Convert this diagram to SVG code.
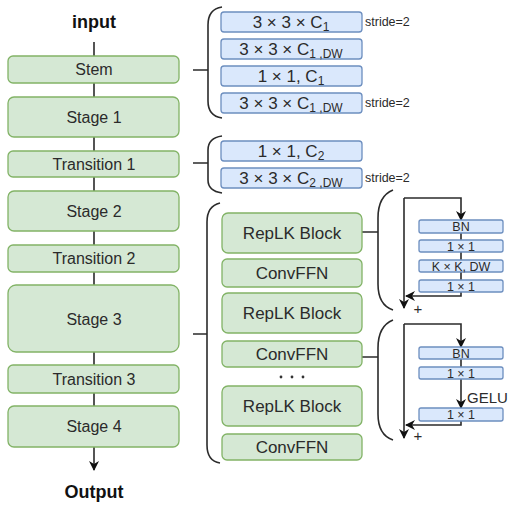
<svg xmlns="http://www.w3.org/2000/svg" width="514" height="507" viewBox="0 0 514 507">
<style>
.g{fill:#d5e8d4;stroke:#82b366;stroke-width:1.3}
.b{fill:#dae8fc;stroke:#6c8ebf;stroke-width:1.3}
.t{font-family:"Liberation Sans",Arial,sans-serif;fill:#2b2b2b;text-anchor:middle}
.lt{font-size:16px}
.rt{font-size:17px}
.st{font-size:12.5px}
.sm{font-size:12.5px}
.ln{fill:none;stroke:#2b2b2b;stroke-width:1.6}
.br{fill:none;stroke:#2b2b2b;stroke-width:1.6}
</style>
<defs>
<marker id="ah2" viewBox="0 0 10 10" refX="9" refY="5" markerWidth="10" markerHeight="10" orient="auto" markerUnits="userSpaceOnUse">
<path d="M0,0 L10,5 L0,10 L3,5 z" fill="#111"/>
</marker>
</defs>

<g id="connectors">
<path class="ln" d="M94,42 V56 M94,83 V97 M94,137 V151 M94,177 V191 M94,231 V245 M94,272 V285 M94,352 V365 M94,393 V406"/>
<path class="ln" d="M94,447 V470" marker-end="url(#ah2)"/>
<path class="ln" d="M193,70 H208 M193,163 H208 M193,334 H207 M362,232 H378 M362,357 H378"/>
<path class="br" d="M222,7 Q208,9 208,25 L208,101 Q208,116 222,118"/>
<path class="br" d="M222,136 Q208,138 208,150 L208,180 Q208,191 222,193"/>
<path class="br" d="M220,203 Q207,206 207,222 L207,445 Q207,461 220,463"/>
<path class="br" d="M393,190 Q378,196 378,218 L378,284 Q378,305 393,310"/>
<path class="br" d="M393,320 Q378,326 378,348 L378,414 Q378,435 393,440"/>
<path class="ln" d="M404,198 V308" marker-end="url(#ah2)"/>
<path class="ln" d="M404,198 H461 V220" marker-end="url(#ah2)"/>
<path class="ln" d="M461,233 V240 M461,252 V260 M461,272 V280"/>
<path class="ln" d="M461,292 V296 H406" marker-end="url(#ah2)"/>
<path class="ln" d="M404,324 V438" marker-end="url(#ah2)"/>
<path class="ln" d="M404,324 H461 V347" marker-end="url(#ah2)"/>
<path class="ln" d="M461,359 V367"/>
<path class="ln" d="M461,379 V408" marker-end="url(#ah2)"/>
<path class="ln" d="M461,421 V425 H406" marker-end="url(#ah2)"/>
</g>

<text class="t" x="94" y="28" style="font-size:18px;font-weight:bold;fill:#111">input</text>
<text class="t" x="94" y="498" style="font-size:18px;font-weight:bold;fill:#111">Output</text>

<g id="stem"><rect class="g" x="8" y="56" width="171" height="27" rx="5"/><text class="t lt" x="94" y="75">Stem</text></g>
<g id="stage1"><rect class="g" x="8" y="97" width="171" height="40" rx="6"/><text class="t lt" x="94" y="123">Stage 1</text></g>
<g id="transition1"><rect class="g" x="8" y="151" width="171" height="26" rx="5"/><text class="t lt" x="94" y="170">Transition 1</text></g>
<g id="stage2"><rect class="g" x="8" y="191" width="171" height="40" rx="6"/><text class="t lt" x="94" y="217">Stage 2</text></g>
<g id="transition2"><rect class="g" x="8" y="245" width="171" height="27" rx="5"/><text class="t lt" x="94" y="264">Transition 2</text></g>
<g id="stage3"><rect class="g" x="8" y="285" width="171" height="67" rx="8"/><text class="t lt" x="94" y="325">Stage 3</text></g>
<g id="transition3"><rect class="g" x="8" y="365" width="171" height="28" rx="5"/><text class="t lt" x="94" y="385">Transition 3</text></g>
<g id="stage4"><rect class="g" x="8" y="406" width="171" height="41" rx="6"/><text class="t lt" x="94" y="432">Stage 4</text></g>

<g id="stem-conv1"><rect class="b" x="221" y="12" width="141" height="20" rx="3"/><text class="t rt" x="291" y="28">3 × 3 × C<tspan font-size="12" dy="3">1</tspan></text><text class="t st" x="365" y="26" style="text-anchor:start">stride=2</text></g>
<g id="stem-conv2"><rect class="b" x="221" y="39" width="141" height="20" rx="3"/><text class="t rt" x="291" y="55">3 × 3 × C<tspan font-size="12" dy="3">1 ,DW</tspan></text></g>
<g id="stem-conv3"><rect class="b" x="221" y="66" width="141" height="20" rx="3"/><text class="t rt" x="291" y="82">1 × 1, C<tspan font-size="12" dy="3">1</tspan></text></g>
<g id="stem-conv4"><rect class="b" x="221" y="93" width="141" height="20" rx="3"/><text class="t rt" x="291" y="109">3 × 3 × C<tspan font-size="12" dy="3">1 ,DW</tspan></text><text class="t st" x="365" y="107" style="text-anchor:start">stride=2</text></g>

<g id="trans-conv1"><rect class="b" x="221" y="141" width="141" height="20" rx="3"/><text class="t rt" x="291" y="157">1 × 1, C<tspan font-size="12" dy="3">2</tspan></text></g>
<g id="trans-conv2"><rect class="b" x="221" y="168" width="141" height="20" rx="3"/><text class="t rt" x="291" y="184">3 × 3 × C<tspan font-size="12" dy="3">2 ,DW</tspan></text><text class="t st" x="365" y="182" style="text-anchor:start">stride=2</text></g>

<g id="replk1"><rect class="g" x="222" y="213" width="140" height="40" rx="6"/><text class="t rt" x="292" y="239">RepLK Block</text></g>
<g id="convffn1"><rect class="g" x="222" y="259" width="140" height="28" rx="5"/><text class="t rt" x="292" y="279">ConvFFN</text></g>
<g id="replk2"><rect class="g" x="222" y="293" width="140" height="40" rx="6"/><text class="t rt" x="292" y="319">RepLK Block</text></g>
<g id="convffn2"><rect class="g" x="222" y="341" width="140" height="26" rx="5"/><text class="t rt" x="292" y="360">ConvFFN</text></g>
<g id="dots" fill="#333"><circle cx="281" cy="377" r="1.4"/><circle cx="292" cy="377" r="1.4"/><circle cx="303" cy="377" r="1.4"/></g>
<g id="replk3"><rect class="g" x="222" y="386" width="140" height="40" rx="6"/><text class="t rt" x="292" y="412">RepLK Block</text></g>
<g id="convffn3"><rect class="g" x="222" y="434" width="140" height="26" rx="5"/><text class="t rt" x="292" y="453">ConvFFN</text></g>

<g id="r-bn"><rect class="b" x="419" y="220" width="84" height="13" rx="2"/><text class="t sm" x="461" y="231">BN</text></g>
<g id="r-1x1a"><rect class="b" x="419" y="240" width="84" height="12" rx="2"/><text class="t sm" x="461" y="250.5">1 × 1</text></g>
<g id="r-kxk"><rect class="b" x="419" y="260" width="84" height="12" rx="2"/><text class="t sm" x="461" y="270.5">K × K, DW</text></g>
<g id="r-1x1b"><rect class="b" x="419" y="280" width="84" height="12" rx="2"/><text class="t sm" x="461" y="290.5">1 × 1</text></g>
<text class="t" x="418" y="314" style="font-size:15px">+</text>

<g id="f-bn"><rect class="b" x="419" y="347" width="84" height="12" rx="2"/><text class="t sm" x="461" y="357.5">BN</text></g>
<g id="f-1x1a"><rect class="b" x="419" y="367" width="84" height="12" rx="2"/><text class="t sm" x="461" y="377.5">1 × 1</text></g>
<text class="t" x="467" y="403" style="font-size:15px;text-anchor:start">GELU</text>
<g id="f-1x1b"><rect class="b" x="419" y="408" width="84" height="13" rx="2"/><text class="t sm" x="461" y="419">1 × 1</text></g>
<text class="t" x="418" y="441" style="font-size:15px">+</text>
</svg>
